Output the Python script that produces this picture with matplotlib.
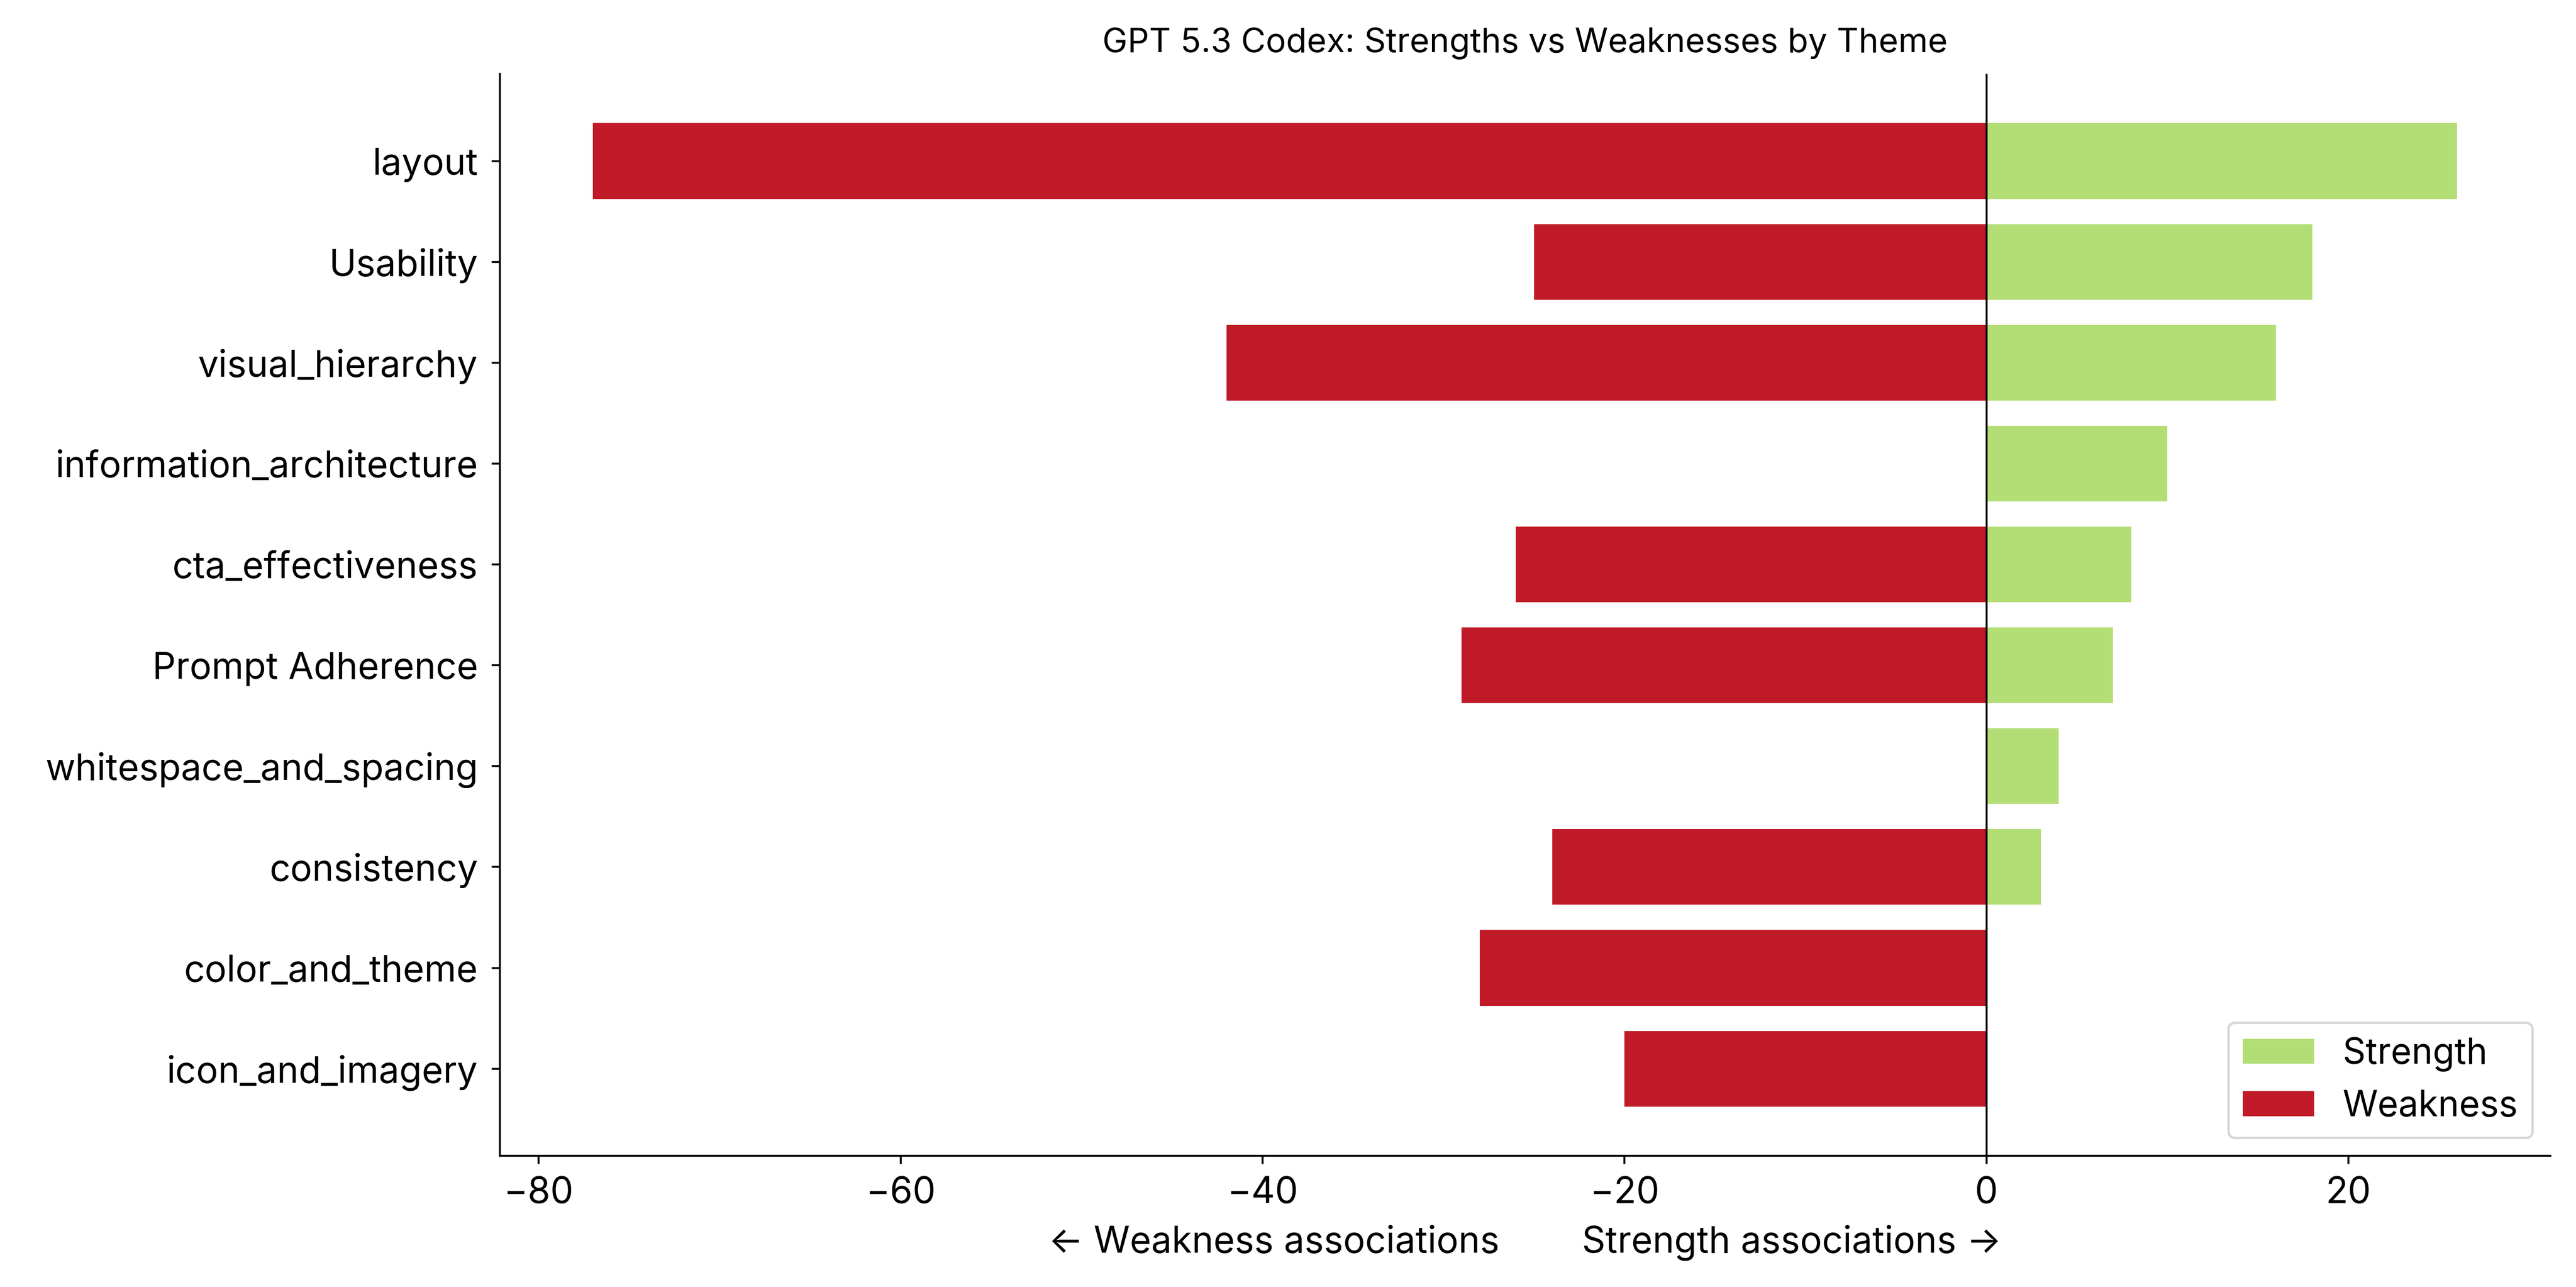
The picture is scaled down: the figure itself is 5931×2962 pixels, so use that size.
import matplotlib
matplotlib.use("Agg")
import matplotlib.pyplot as plt
import numpy as np

plt.rcParams['font.family'] = ['Inter', 'DejaVu Sans']

themes = ["layout", "Usability", "visual_hierarchy", "information_architecture",
          "cta_effectiveness", "Prompt Adherence", "whitespace_and_spacing",
          "consistency", "color_and_theme", "icon_and_imagery"]
strength = [26, 18, 16, 10, 8, 7, 4, 3, 0, 0]
weakness = [77, 25, 42, 0, 26, 29, 0, 24, 28, 20]

DPI = 400
fig = plt.figure(figsize=(5931 / DPI, 2962 / DPI), dpi=DPI)
ax = fig.add_axes([0.194, 0.102, 0.796, 0.8405])

y = np.arange(len(themes))
ax.barh(y, strength, height=0.75, color="#b3de75", label="Strength")
ax.barh(y, [-w for w in weakness], height=0.75, color="#c01a28", label="Weakness")
ax.axvline(0, color="black", linewidth=0.8)

ax.set_yticks(y)
ax.set_yticklabels(themes, fontsize=15.2)
ax.invert_yaxis()
ax.tick_params(axis='x', labelsize=15.2, pad=5)
ax.tick_params(axis='y', pad=5.5)
ax.spines['top'].set_visible(False)
ax.spines['right'].set_visible(False)
ax.set_xlabel("\u2190 Weakness associations        Strength associations \u2192", fontsize=15.2, labelpad=6)
ax.set_title("GPT 5.3 Codex: Strengths vs Weaknesses by Theme", fontsize=14, pad=9)
ax.legend(loc="lower right", fontsize=14.8)

fig.savefig("out.png", dpi=DPI)
